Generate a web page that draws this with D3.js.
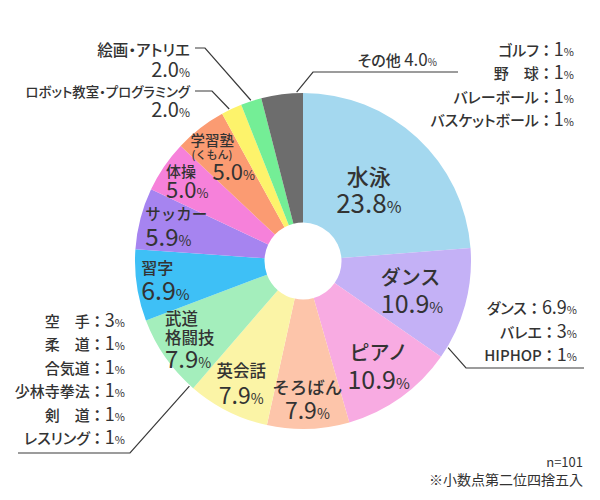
<!DOCTYPE html>
<html>
<head>
<meta charset="utf-8">
<script src="https://cdn.jsdelivr.net/npm/d3@7"></script>
<style>
  body { margin: 0; background: #fff; }
  text { font-family: "Noto Sans CJK JP", "Noto Sans", sans-serif; fill: #333; font-weight: 500; }
  .p { font-feature-settings: "palt"; }
</style>
</head>
<body>
<div id="chart"></div>
<script>
// slices, clockwise from 12 o'clock
const categories = ["水泳", "ダンス", "ピアノ", "そろばん", "英会話", "武道格闘技", "習字", "サッカー", "体操", "学習塾(くもん)", "ロボット教室・プログラミング", "絵画・アトリエ", "その他"];
const values = [23.8, 10.9, 10.9, 7.9, 7.9, 7.9, 6.9, 5.9, 5.0, 5.0, 2.0, 2.0, 4.0];
const colors = ["#a4d8ef", "#c4b1f6", "#f8abe2", "#fdc5aa", "#fbf4a6", "#a4eebc", "#3ec0f6", "#a684f0", "#f681da", "#fb9b72", "#fdf36b", "#74ee96", "#6d6d6d"];
const labelLines = [["水泳"], ["ダンス"], ["ピアノ"], ["そろばん"], ["英会話"], ["武道", "格闘技"], ["習字"], ["サッカー"], ["体操"], ["学習塾", "(くもん)"], null, null, null];

// breakdowns
const otherNames = ["ゴルフ", "野　球", "バレーボール", "バスケットボール"];
const otherValues = [1, 1, 1, 1];
const danceNames = ["ダンス", "バレエ", "HIPHOP"];
const danceValues = [6.9, 3, 1];
const budoNames = ["空　手", "柔　道", "合気道", "少林寺拳法", "剣　道", "レスリング"];
const budoValues = [3, 1, 1, 1, 1, 1];

const n = 101;

const width = 600, height = 500;
const cx = 303, cy = 261;
const outerR = 168, innerR = 38.5;

const svg = d3.select("#chart")
  .append("svg")
    .attr("width", width)
    .attr("height", height);

const g = svg.append("g")
    .attr("transform", `translate(${cx}, ${cy})`);

const pie = d3.pie().sort(null).value(d => d);
const arcs = pie(values);
const arc = d3.arc().innerRadius(innerR).outerRadius(outerR);

g.selectAll("path")
  .data(arcs)
  .join("path")
    .attr("d", arc)
    .attr("fill", (d, i) => colors[i]);

function polar(a, r) {
  return [r * Math.sin(a), -r * Math.cos(a)];
}

// inner label layout: radius, font sizes, baseline gaps
const layout = [
  {r: 97, name: 22, val: 26, gap: 28, anchor: "middle"},
  {r: 113, name: 20, val: 25, gap: 28, anchor: "start"},
  {r: 130, name: 20, val: 25, gap: 28.5, anchor: "middle"},
  {r: 139, name: 17.5, val: 23, gap: 25, anchor: "middle"},
  {r: 138, name: 16.5, val: 23, gap: 26.5, anchor: "middle"},
  {r: 138, name: 16.5, val: 24, gap: 24, lineGap: 19, anchor: "start"},
  {r: 139, name: 16, val: 25, gap: 26, anchor: "start"},
  {r: 131, name: 15.5, val: 24, gap: 26, anchor: "start"},
  {r: 140, name: 15, val: 22, gap: 21, anchor: "start"},
  {r: 131, name: 14.5, val: 22, gap: 21, lineGap: 13, subSize: 11, anchor: "start", valDx: 22}
];

arcs.forEach((d, i) => {
  if (!labelLines[i]) return;
  const L = layout[i];
  const mid = (d.startAngle + d.endAngle) / 2;
  const [px, py] = polar(mid, L.r);
  const lg = g.append("g");
  let y = 0;
  labelLines[i].forEach((line, k) => {
    if (k > 0) y += L.lineGap;
    const sub = line.startsWith("(");
    lg.append("text")
      .attr("x", sub ? 1 : 0)
      .attr("y", y)
      .attr("text-anchor", L.anchor)
      .style("font-size", (sub ? L.subSize : L.name) + "px")
      .text(line);
  });
  y += L.gap;
  const t = lg.append("text")
    .attr("x", L.valDx || 0)
    .attr("y", y)
    .attr("text-anchor", L.anchor)
    .style("font-size", L.val + "px")
    .style("font-weight", 400);
  t.append("tspan").text(d3.format(".1f")(values[i]));
  t.append("tspan").style("font-size", Math.round(L.val * 0.6) + "px").text("%");
  const bb = lg.node().getBBox();
  lg.attr("transform", `translate(${px - (bb.x + bb.width / 2)}, ${py - (bb.y + bb.height / 2)})`);
});

// leader lines
const lineColor = "#3a3a3a";
function leader(i, frac, pts) {
  const d = arcs[i];
  const a = d.startAngle + (d.endAngle - d.startAngle) * frac;
  const [ex, ey] = polar(a, outerR + 1);
  const all = pts.map(p => [p[0] - cx, p[1] - cy]).concat([[ex, ey]]);
  g.append("path")
    .attr("d", d3.line()(all))
    .attr("fill", "none")
    .attr("stroke", lineColor)
    .attr("stroke-width", 1.2);
}
leader(11, 0.5, [[195, 48], [205, 48]]);
leader(10, 0.4, [[195, 91], [212, 91]]);
leader(12, 0.85, [[458, 72], [313, 72]]);
leader(1, 0.9, [[584, 368], [466, 368]]);
leader(5, 0.05, [[18, 453], [130, 453]]);

// outer labels for small slices
function pctLabel(x, y, txt, val, nameSize, valSize) {
  const t = svg.append("text").attr("class", "p").attr("x", x).attr("y", y).attr("text-anchor", "end");
  if (txt) t.append("tspan").style("font-size", nameSize + "px").text(txt);
  t.append("tspan").style("font-size", valSize + "px").style("font-weight", 400).text(val);
  t.append("tspan").style("font-size", Math.round(valSize * 0.6) + "px").style("font-weight", 400).text("%");
  return t;
}
svg.append("text").attr("class", "p").attr("x", 190).attr("y", 56).attr("text-anchor", "end")
  .style("font-size", "15.5px").text(categories[11]);
pctLabel(190, 77, null, d3.format(".1f")(values[11]), 15, 20);
svg.append("text").attr("class", "p").attr("x", 190).attr("y", 97).attr("text-anchor", "end")
  .style("font-size", "13.4px").text(categories[10]);
pctLabel(190, 117, null, d3.format(".1f")(values[10]), 15, 20);
pctLabel(437, 66, categories[12] + " ", d3.format(".1f")(values[12]), 15, 17);

// breakdown lists
function list(names, vals, xRight, y0, step) {
  names.forEach((nm, k) => {
    const t = svg.append("text")
      .attr("x", xRight)
      .attr("y", y0 + k * step)
      .attr("text-anchor", "end");
    t.append("tspan").attr("class", "p").style("font-size", "15px").text(nm);
    t.append("tspan").style("font-size", "15px").style("font-weight", 700).text("：");
    t.append("tspan").style("font-size", "18px").style("font-weight", 400).text(vals[k]);
    t.append("tspan").style("font-size", "11px").style("font-weight", 400).text("%");
  });
}
list(otherNames, otherValues, 574, 56, 23.3);
list(danceNames, danceValues, 577, 314, 23.5);
list(budoNames, budoValues, 125, 327, 23.4);

// notes
svg.append("text").attr("x", 583).attr("y", 467).attr("text-anchor", "end")
  .style("font-size", "13px").style("font-weight", 400).text("n=" + n);
svg.append("text").attr("x", 583).attr("y", 485).attr("text-anchor", "end")
  .style("font-size", "14px").style("font-weight", 400).text("※小数点第二位四捨五入");
</script>
</body>
</html>
